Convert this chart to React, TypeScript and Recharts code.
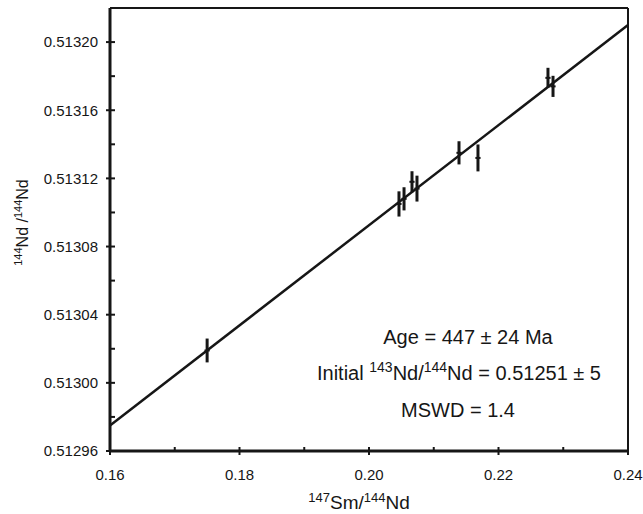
import { ComposedChart, Scatter, ErrorBar, XAxis, YAxis, ReferenceLine, Label } from 'recharts';

// 147Sm/144Nd vs 143Nd/144Nd whole-rock isochron
const sampleSm = [0.175, 0.20463, 0.20541, 0.20664, 0.20741, 0.2139, 0.21683, 0.22764, 0.22842];
const sampleNd = [0.513019, 0.513105, 0.513108, 0.513118, 0.513114, 0.513135, 0.513132, 0.513179, 0.513174];
const sampleNdErr = [0.000007, 0.0000074, 0.0000068, 0.0000062, 0.0000076, 0.0000068, 0.0000079, 0.0000059, 0.0000062];
const sampleSmErr = [0.0004, 0.0004, 0.0004, 0.0004, 0.0004, 0.0004, 0.0004, 0.0004, 0.0004];

const isochronSm = [0.16, 0.24];
const isochronNd = [0.512975, 0.51321];

const xTicks = [0.16, 0.17, 0.18, 0.19, 0.2, 0.21, 0.22, 0.23, 0.24];
const yTicks = [0.51296, 0.51298, 0.513, 0.51302, 0.51304, 0.51306, 0.51308, 0.5131, 0.51312, 0.51314, 0.51316, 0.51318, 0.5132];

const points = sampleSm.map((x, i) => ({ x, y: sampleNd[i], ey: sampleNdErr[i], ex: sampleSmErr[i] }));
const isochron = isochronSm.map((x, i) => ({ x, y: isochronNd[i] }));

const ink = '#161616';
const font = '"Liberation Sans", Arial, sans-serif';
const Y_GAP = 12;
const X_GAP = 18;

function YTick(props: any) {
  const { x, y, payload, index } = props;
  const axisX = x + Y_GAP;
  const major = index % 2 === 0;
  return (
    <g>
      <line x1={major ? axisX - 4 : axisX} x2={axisX + 5} y1={y} y2={y} stroke={ink} strokeWidth={2} />
      {major && (
        <text x={x} y={y} dy="0.36em" textAnchor="end" fontSize={15} fontFamily={font} fill={ink}>
          {payload.value.toFixed(5)}
        </text>
      )}
    </g>
  );
}

function XTick(props: any) {
  const { x, y, payload, index } = props;
  const axisY = y - X_GAP;
  const major = index % 2 === 0;
  return (
    <g>
      <line x1={x} x2={x} y1={axisY - 4} y2={major ? axisY + 4 : axisY} stroke={ink} strokeWidth={2} />
      {major && (
        <text x={x} y={y} dy="0.71em" textAnchor="middle" fontSize={15} fontFamily={font} fill={ink}>
          {payload.value.toFixed(2)}
        </text>
      )}
    </g>
  );
}

function XTitle(props: any) {
  const { x, y, width } = props.viewBox;
  return (
    <text x={x + width / 2 - 10} y={y + 58} textAnchor="middle" fontSize={19} fontFamily={font} fill={ink}>
      <tspan fontSize={13} dy={-7}>147</tspan>
      <tspan dy={7}>Sm/</tspan>
      <tspan fontSize={13} dy={-7}>144</tspan>
      <tspan dy={7}>Nd</tspan>
    </text>
  );
}

function YTitle(props: any) {
  const { x, y, height } = props.viewBox;
  const cx = x + 28;
  const cy = y + height / 2 - 7;
  return (
    <text x={cx} y={cy} transform={`rotate(-90 ${cx} ${cy})`} textAnchor="middle" fontSize={16} fontFamily={font} fill={ink}>
      <tspan fontSize={11} dy={-6}>144</tspan>
      <tspan dy={6}>Nd /</tspan>
      <tspan fontSize={11} dy={-6}>144</tspan>
      <tspan dy={6}>Nd</tspan>
    </text>
  );
}

export default function App() {
  return (
    <div style={{ position: 'absolute', left: 0, top: 0, background: '#fff' }}>
      <ComposedChart width={643} height={514} margin={{ top: 8, right: 15, bottom: 0, left: 0 }}>
        <XAxis
          type="number"
          dataKey="x"
          domain={[0.16, 0.24]}
          ticks={xTicks}
          interval={0}
          tickSize={0}
          tickMargin={X_GAP}
          height={63}
          axisLine={{ stroke: ink, strokeWidth: 3 }}
          tick={(p: any) => <XTick {...p} />}
        >
          <Label content={XTitle} />
        </XAxis>
        <YAxis
          type="number"
          dataKey="y"
          domain={[0.51296, 0.51322]}
          ticks={yTicks}
          interval={0}
          tickSize={0}
          tickMargin={Y_GAP}
          width={110}
          axisLine={{ stroke: ink, strokeWidth: 3 }}
          tick={(p: any) => <YTick {...p} />}
        >
          <Label content={YTitle} />
        </YAxis>
        <ReferenceLine y={0.51322} stroke={ink} strokeWidth={2} />
        <ReferenceLine x={0.24} stroke={ink} strokeWidth={2} />
        <Scatter
          data={isochron}
          line={{ stroke: ink, strokeWidth: 2.5 }}
          shape={() => <g />}
          isAnimationActive={false}
        />
        <Scatter data={points} shape={() => <g />} isAnimationActive={false}>
          <ErrorBar dataKey="ey" direction="y" width={0} stroke={ink} strokeWidth={3} />
          <ErrorBar dataKey="ex" direction="x" width={0} stroke={ink} strokeWidth={2} />
        </Scatter>
        <g fontFamily={font} fill={ink} fontSize={20} textAnchor="middle">
          <text x={468} y={344}>Age = 447 ± 24 Ma</text>
          <text x={459} y={380}>
            Initial{' '}
            <tspan fontSize={14} dy={-8}>143</tspan>
            <tspan dy={8}>Nd/</tspan>
            <tspan fontSize={14} dy={-8}>144</tspan>
            <tspan dy={8}>Nd = 0.51251 ± 5</tspan>
          </text>
          <text x={458} y={417}>MSWD = 1.4</text>
        </g>
      </ComposedChart>
    </div>
  );
}
